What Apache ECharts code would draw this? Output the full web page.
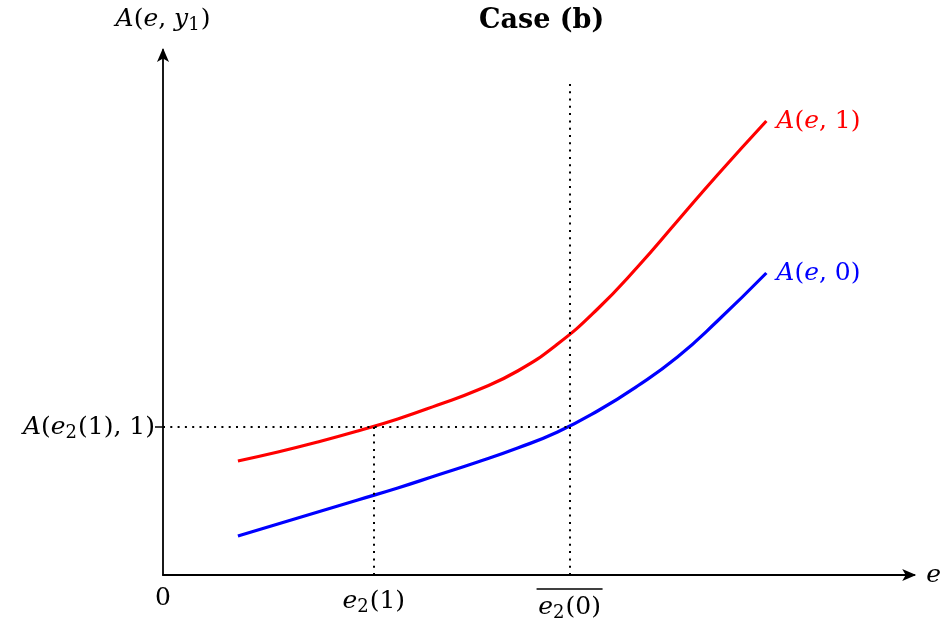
<!DOCTYPE html>
<html>
<head>
<meta charset="utf-8">
<script src="https://cdn.jsdelivr.net/npm/echarts@6/dist/echarts.min.js"></script>
<style>html,body{margin:0;padding:0;background:#fff}#c{width:944px;height:623px}</style>
</head>
<body>
<div id="c"></div>
<script>
// ---- data (abstract units) ----
const titleText = 'Case (b)';
const xAxisName = 'e';
const yAxisName = 'A(e, y₁)';
const xSample = [75, 115, 155, 195, 235, 275, 315, 355, 395, 435, 475, 515, 555, 604];
const redValues = [114, 123, 133, 144, 156, 170, 185, 204, 231, 266, 308, 354, 400, 454];
const blueValues = [39, 51, 63, 75, 87, 100, 113, 127, 143, 164, 189, 218, 254, 302];
const redName = 'A(e, 1)';
const blueName = 'A(e, 0)';
const xTickValues = [0, 211, 407];
const xTickLabels = ['0', 'e₂(1)', 'e₂(0)'];
const yTickValues = [148];
const yTickLabels = ['A(e₂(1), 1)'];
const e21 = 211, e20 = 407, levelY = 148, e20Top = 495;
const xMax = 752, yMax = 525;

const FONT = 'DejaVu Serif';
const SUBS = '₀₁₂₃₄₅₆₇₈₉';
function mathRich(s) {
  return (s.match(/[A-Za-z]|[₀-₉]|[^A-Za-z₀-₉]+/g) || []).map(t => {
    if (/[A-Za-z]/.test(t)) return '{i|' + t + '}';
    if (SUBS.indexOf(t) >= 0) return '{s|' + SUBS.indexOf(t) + '}';
    return '{r|' + t + '}';
  }).join('');
}
function richStyles(size) {
  return {
    i: { fontFamily: FONT, fontStyle: 'italic', fontSize: size },
    r: { fontFamily: FONT, fontStyle: 'normal', fontSize: size },
    s: { fontFamily: FONT, fontStyle: 'normal', fontSize: Math.round(size * 0.72), padding: [12, 1, 0, 0] },
    bar: { width: 66, height: 1.6, backgroundColor: '#000', fontSize: 2, lineHeight: 6 }
  };
}
const FS = 25;

const chart = echarts.init(document.getElementById('c'), null, { renderer: 'canvas' });
const pairs = arr => xSample.map((x, i) => [x, arr[i]]);

chart.setOption({
  animation: false,
  backgroundColor: '#fff',
  title: {
    text: titleText, left: 474, top: 2,
    textStyle: { fontFamily: FONT, fontWeight: 'bold', fontSize: 27, color: '#000' }
  },
  grid: { left: 163, top: 50, width: xMax, height: yMax },
  xAxis: {
    type: 'value', min: 0, max: xMax,
    name: mathRich(xAxisName), nameGap: 12,
    nameTextStyle: { color: '#000', rich: richStyles(FS), verticalAlign: 'middle' },
    splitLine: { show: false },
    axisLine: { lineStyle: { color: '#000', width: 1.8 }, symbol: ['none', 'arrow'], symbolSize: [9, 14], symbolOffset: [0, 2] },
    axisTick: { show: false },
    axisLabel: {
      customValues: xTickValues, margin: 11, color: '#000',
      rich: richStyles(FS),
      formatter: v => {
        const i = xTickValues.indexOf(v);
        if (i < 0) return '';
        const s = mathRich(xTickLabels[i]);
        return i === 2 ? '{bar| }\n' + s : s;
      }
    }
  },
  yAxis: {
    type: 'value', min: 0, max: yMax,
    name: mathRich(yAxisName), nameGap: 16,
    nameTextStyle: { color: '#000', rich: richStyles(FS) },
    splitLine: { show: false },
    axisLine: { lineStyle: { color: '#000', width: 1.8 }, symbol: ['none', 'arrow'], symbolSize: [9, 14], symbolOffset: [0, 2] },
    axisTick: { customValues: yTickValues, length: 8, lineStyle: { color: '#000', width: 1.5 } },
    axisLabel: {
      customValues: yTickValues, margin: 8, color: '#000',
      rich: richStyles(FS),
      formatter: v => {
        const i = yTickValues.indexOf(v);
        return i < 0 ? '' : mathRich(yTickLabels[i]);
      }
    }
  },
  series: [
    {
      name: 'guides', type: 'line', data: [], silent: true,
      markLine: {
        symbol: 'none', silent: true, label: { show: false },
        lineStyle: { color: '#000', width: 2, type: [2, 5.3] },
        data: [
          [{ coord: [0, levelY] }, { coord: [e20, levelY] }],
          [{ coord: [e21, 0] }, { coord: [e21, levelY] }],
          [{ coord: [e20, 0] }, { coord: [e20, e20Top] }]
        ]
      }
    },
    {
      name: redName, type: 'line', data: pairs(redValues), smooth: 0.5,
      symbol: 'none', lineStyle: { color: '#ff0000', width: 3.2 },
      endLabel: { show: true, distance: 10, color: '#ff0000', rich: richStyles(FS), formatter: () => mathRich(redName) }
    },
    {
      name: blueName, type: 'line', data: pairs(blueValues), smooth: 0.5,
      symbol: 'none', lineStyle: { color: '#0000ff', width: 3.2 },
      endLabel: { show: true, distance: 10, color: '#0000ff', rich: richStyles(FS), formatter: () => mathRich(blueName) }
    }
  ]
});
</script>
</body>
</html>
